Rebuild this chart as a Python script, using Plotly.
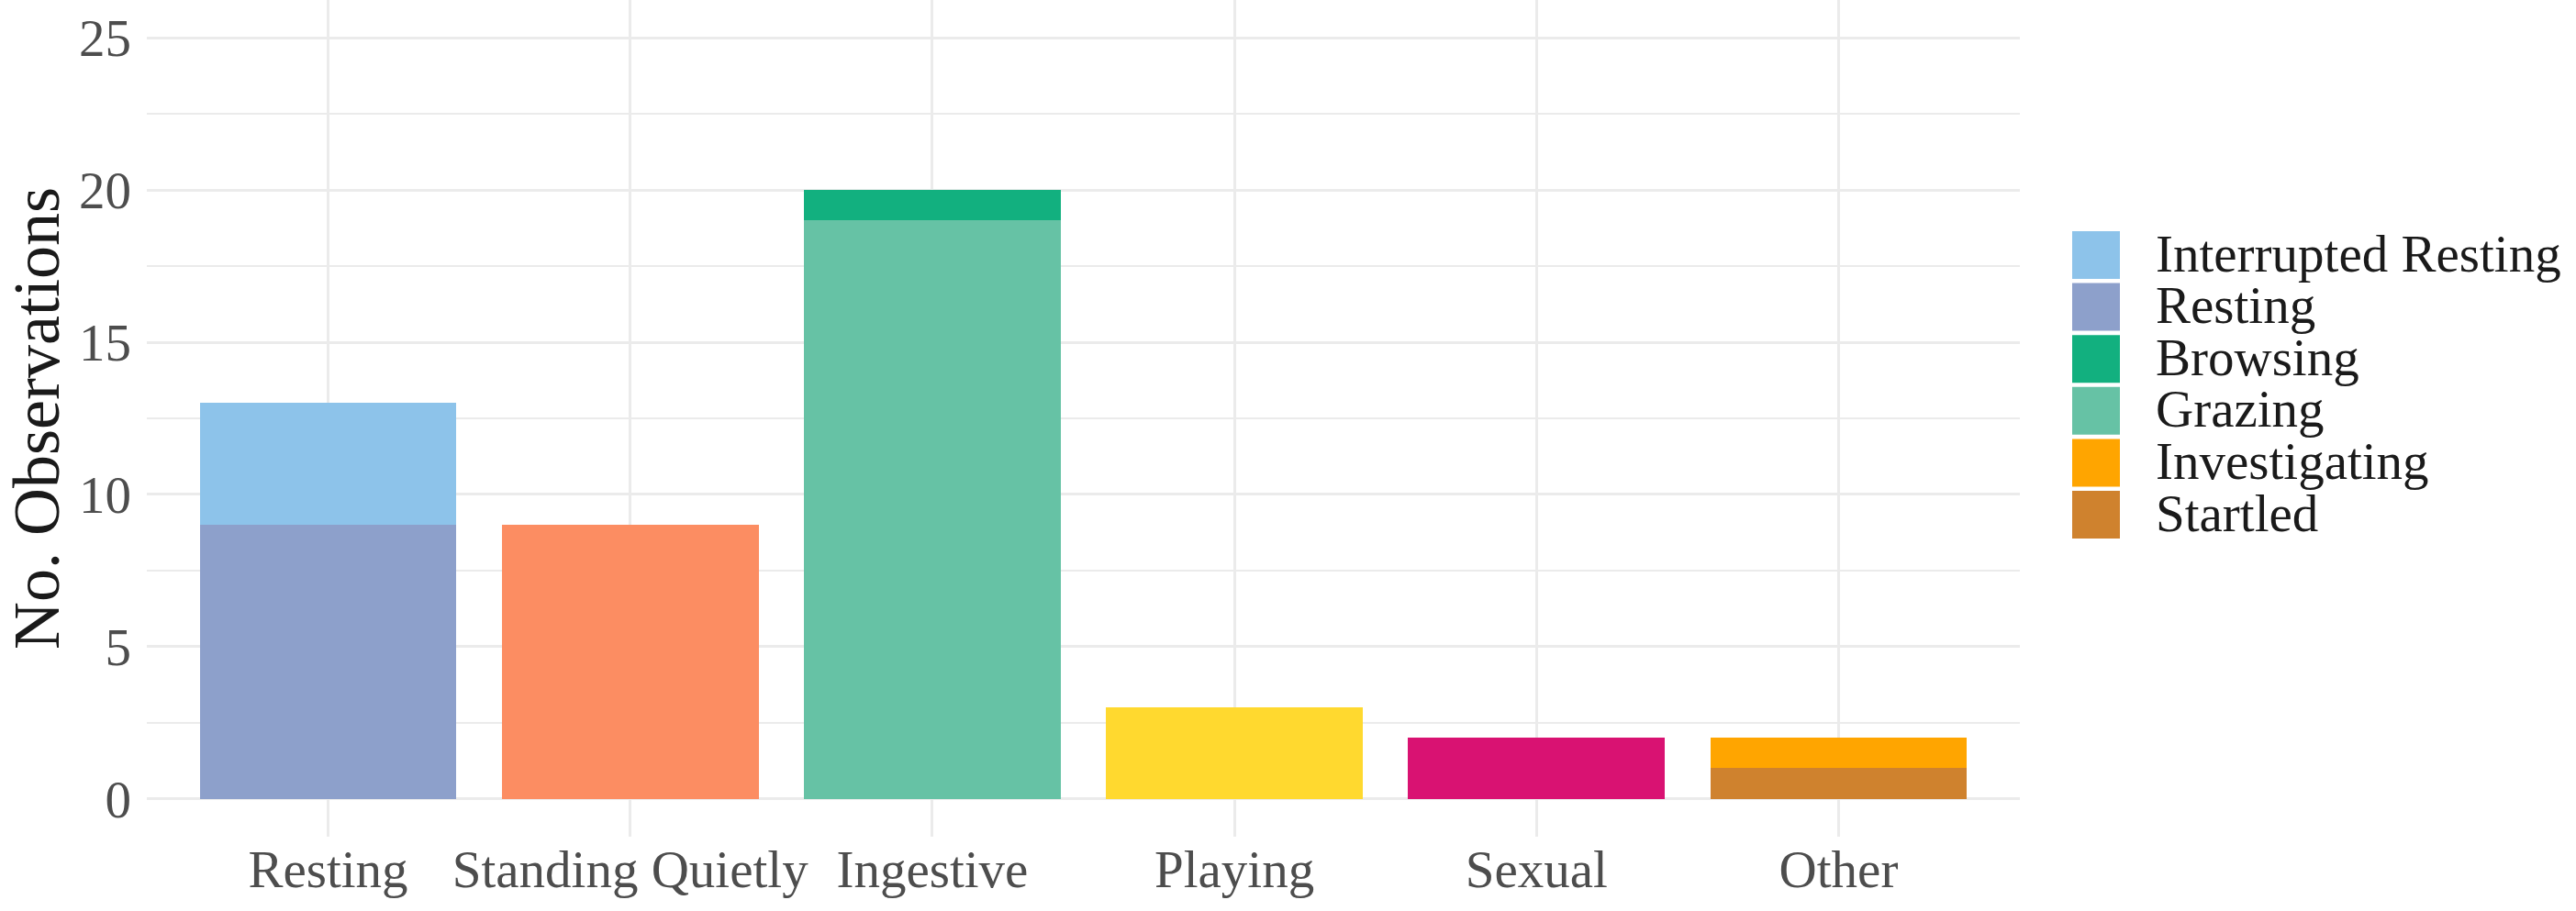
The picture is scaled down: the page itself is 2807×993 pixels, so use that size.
import plotly.graph_objects as go

# ---- data ----
categories = ["Resting", "Standing Quietly", "Ingestive", "Playing", "Sexual", "Other"]

# series (behaviour sub-types), stacked bottom -> top within a category
series_names = ["Resting", "Interrupted Resting", "Standing Quietly", "Grazing", "Browsing",
                "Playing", "Sexual", "Startled", "Investigating"]
series_category = ["Resting", "Resting", "Standing Quietly", "Ingestive", "Ingestive",
                   "Playing", "Sexual", "Other", "Other"]
series_values = [9, 4, 9, 19, 1, 3, 2, 1, 1]
series_colors = ["#8DA0CB", "#8DC3EA", "#FC8D62", "#66C2A5", "#12B07F",
                 "#FFD92F", "#D91272", "#CF822E", "#FFA500"]

legend_names = ["Interrupted Resting", "Resting", "Browsing", "Grazing", "Investigating", "Startled"]

y_ticks = [0, 5, 10, 15, 20, 25]

# ---- layout geometry (pixels) ----
W, H = 2807, 993
L, R, T, B = 160, 606, 0, 81
PW = W - L - R
PH = H - T - B

FONT = "Liberation Serif, Times New Roman, serif"

fig = go.Figure()
for name, cat, val, col in zip(series_names, series_category, series_values, series_colors):
    fig.add_trace(go.Bar(
        x=[cat], y=[val], name=name,
        marker=dict(color=col, line=dict(width=0)),
        showlegend=False,
    ))

# custom legend (large square keys like ggplot)
color_of = dict(zip(series_names, series_colors))
key_top0 = 252
key_step = 56.6
key_h = 52
key_x0, key_x1 = 2258, 2310
text_x = 2348


def px_x(p):
    return (p - L) / PW


def px_y(p):
    return (H - B - p) / PH


shapes = []
annotations = []
for i, nm in enumerate(legend_names):
    top = key_top0 + i * key_step
    shapes.append(dict(type="rect", xref="paper", yref="paper",
                       x0=px_x(key_x0), x1=px_x(key_x1),
                       y0=px_y(top + key_h), y1=px_y(top),
                       fillcolor=color_of[nm], line=dict(width=0), layer="above"))
    annotations.append(dict(xref="paper", yref="paper", x=px_x(text_x), y=px_y(top + key_h / 2 - 2),
                            text=nm, showarrow=False, xanchor="left", yanchor="middle",
                            borderpad=0,
                            font=dict(family=FONT, size=57, color="#1A1A1A")))

grid_col = "#EBEBEB"
fig.update_layout(
    width=W, height=H,
    margin=dict(l=L, r=R, t=T, b=B, pad=0, autoexpand=False),
    barmode="stack",
    bargap=0.15,
    plot_bgcolor="white",
    paper_bgcolor="white",
    font=dict(family=FONT),
    shapes=shapes,
    annotations=annotations,
    xaxis=dict(
        automargin=False,
        categoryorder="array", categoryarray=categories,
        range=[-0.6, len(categories) - 1 + 0.6],
        showgrid=True, gridcolor=grid_col, gridwidth=3.3,
        zeroline=False, showline=False, ticks="",
        tickfont=dict(family=FONT, size=57, color="#4D4D4D"),
        ticklabelstandoff=-3,
    ),
    yaxis=dict(
        automargin=False,
        range=[-1.25, 26.25],
        tickvals=y_ticks,
        showgrid=True, gridcolor=grid_col, gridwidth=3.3,
        minor=dict(dtick=2.5, tick0=0, showgrid=True, gridcolor=grid_col, gridwidth=2, ticks=""),
        zeroline=False, showline=False, ticks="",
        tickfont=dict(family=FONT, size=57, color="#4D4D4D"),
        ticklabelstandoff=16,
        title=dict(text="No. Observations", font=dict(family=FONT, size=72, color="#1A1A1A"), standoff=14),
    ),
)

fig.write_html(
    "out.html",
    config={"displayModeBar": False},
    post_script="document.body.style.margin='0';document.body.style.overflow='hidden';",
)
